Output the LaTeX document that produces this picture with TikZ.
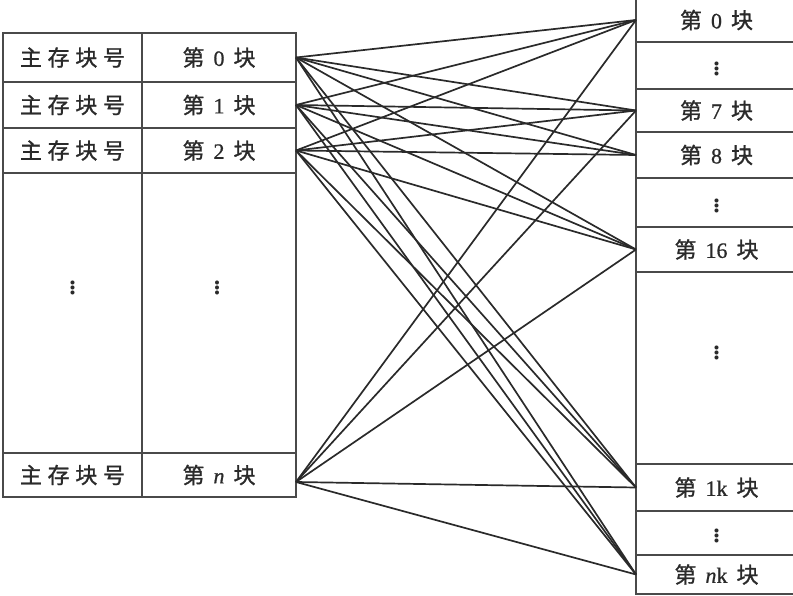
\documentclass[tikz,border=0pt]{standalone}
\usepackage{fontspec}
\setmainfont{Liberation Serif}
\newfontfamily\cjk[FakeBold=1.2]{Noto Sans CJK SC}
\newfontfamily\cjksp[FakeBold=1.2, LetterSpace=26]{Noto Sans CJK SC}
\newfontfamily\digit[FakeBold=0.8]{Liberation Serif}
\usepackage{tikz}
\usetikzlibrary{positioning}
\definecolor{ink}{HTML}{2A2A2A}
\definecolor{rule}{HTML}{4A4A4A}
\newcommand{\blk}[1]{{\cjk 第}\hspace{9pt}{\digit #1}\hspace{9pt}{\cjk 块}}
\newcommand{\zhucun}{{\cjksp 主存块号}}
\newcommand{\dotsv}{{\fontsize{34}{34}\selectfont$\vdots$}}

\begin{document}
\begin{tikzpicture}[x=1pt, y=-1pt,
    every node/.style={font=\fontsize{22}{24}\selectfont, text=ink, align=center},
    cellL/.style={draw=rule, line width=1.6pt, inner sep=0pt, outer sep=0pt,
                  minimum width=139pt},
    cellR/.style={draw=rule, line width=1.6pt, inner sep=0pt, outer sep=0pt,
                  minimum width=154pt},
    cache/.style={draw=rule, line width=1.6pt, inner sep=0pt, outer sep=0pt,
                  minimum width=161pt},
    link/.style={draw=ink, line width=1.7pt}
  ]
  \useasboundingbox (0,0) rectangle (793,596);

  % ---- main memory (left table) -------------------------------------
  \node[cellL, minimum height=49pt]  (k0) at (72.5,57.5)  {\zhucun};
  \node[cellL, minimum height=46pt]  (k1) at (72.5,105)   {\zhucun};
  \node[cellL, minimum height=45pt]  (k2) at (72.5,150.5) {\zhucun};
  \node[cellL, minimum height=280pt] (kd) at (72.5,313)   {};
  \node[cellL, minimum height=44pt]  (kn) at (72.5,475)   {\zhucun};

  \node[cellR, minimum height=49pt]  (l0) at (219,57.5)  {\blk{0}};
  \node[cellR, minimum height=46pt]  (l1) at (219,105)   {\blk{1}};
  \node[cellR, minimum height=45pt]  (l2) at (219,150.5) {\blk{2}};
  \node[cellR, minimum height=280pt] (ld) at (219,313)   {};
  \node[cellR, minimum height=44pt]  (ln) at (219,475)   {\blk{\textit{n}}};

  \node (dk) at (72.5,285) {\dotsv};
  \node (dl) at (217,285)  {\dotsv};

  % ---- cache (right column, runs off the page edge) ---------------------
  \node[cache, minimum height=44pt]  (r0)  at (716.5,20)    {\blk{0}};
  \node[cache, minimum height=47pt]  (c1)  at (716.5,65.5)  {\dotsv};
  \node[cache, minimum height=43pt]  (r7)  at (716.5,110.5) {\blk{7}};
  \node[cache, minimum height=46pt]  (r8)  at (716.5,155)   {\blk{8}};
  \node[cache, minimum height=49pt]  (c2)  at (716.5,202.5) {\dotsv};
  \node[cache, minimum height=45pt]  (r16) at (716.5,249.5) {\blk{16}};
  \node[cache, minimum height=192pt] (c3)  at (716.5,368)   {};
  \node[cache, minimum height=47pt]  (r1k) at (716.5,487.5) {\blk{1k}};
  \node[cache, minimum height=44pt]  (c4)  at (716.5,533)   {\dotsv};
  \node[cache, minimum height=39pt]  (rnk) at (716.5,574.5) {\blk{\textit{n}k}};
  \node (dc) at (716.5,350) {\dotsv};

  % ---- any block may go to any cache line -------------------------
  \foreach \a in {l0,l1,l2}
    \foreach \b in {r0,r7,r8,r16,r1k,rnk}
      \draw[link] (\a.east) -- (\b.west);
  \foreach \b in {r0,r7,r16,r1k,rnk}
    \draw[link] ([yshift=-7pt]ln.east) -- (\b.west);

\end{tikzpicture}
\end{document}
